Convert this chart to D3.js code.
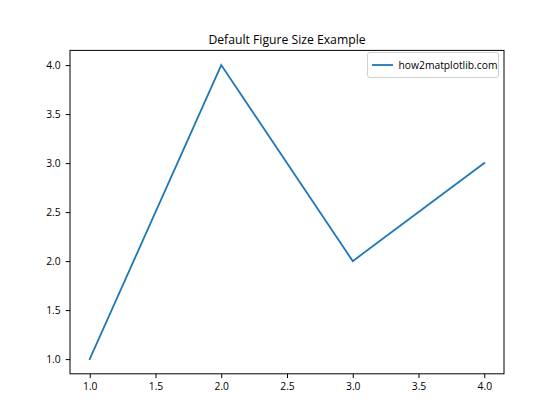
<!DOCTYPE html>
<html><head><meta charset="utf-8">
<script src="https://cdn.jsdelivr.net/npm/d3@7"></script>
<style>body{margin:0;background:#fff}svg text{font-family:"Open Sans","Noto Sans","DejaVu Sans",sans-serif;fill:#000}</style>
</head><body><svg id="c" width="560" height="420"></svg>
<script>
const xValues = [1, 2, 3, 4];
const yValues = [1, 4, 2, 3];
const xTicks = [1.0, 1.5, 2.0, 2.5, 3.0, 3.5, 4.0];
const yTicks = [1.0, 1.5, 2.0, 2.5, 3.0, 3.5, 4.0];
const title = "Default Figure Size Example";
const seriesLabel = "how2matplotlib.com";

const svg = d3.select("#c");
const L = 70, R = 504, T = 50.4, B = 373.8;
const x = d3.scaleLinear().domain([0.85, 4.15]).range([L, R]);
const y = d3.scaleLinear().domain([0.85, 4.15]).range([B, T]);

const xAxis = svg.append("g").attr("transform", `translate(0,${B})`)
  .call(d3.axisBottom(x).tickValues(xTicks).tickFormat(d3.format(".1f")).tickSize(4.3).tickPadding(5));
const yAxis = svg.append("g").attr("transform", `translate(${L},0)`)
  .call(d3.axisLeft(y).tickValues(yTicks).tickFormat(d3.format(".1f")).tickSize(4.3).tickPadding(5));
[xAxis, yAxis].forEach(a => {
  a.select(".domain").remove();
  a.selectAll("line").attr("stroke", "#000").attr("stroke-width", 1);
  a.selectAll("text").attr("font-size", 10.3).attr("font-family", null);
});

const line = d3.line().x((d, i) => x(xValues[i])).y(d => y(d));
svg.append("path").datum(yValues).attr("d", line)
  .attr("fill", "none").attr("stroke", "#1f77b4").attr("stroke-width", 1.8).attr("stroke-linecap", "square");

svg.append("rect").attr("x", L).attr("y", T).attr("width", R - L).attr("height", B - T)
  .attr("fill", "none").attr("stroke", "#000").attr("stroke-width", 1);

svg.append("text").attr("x", (L + R) / 2).attr("y", T - 6.5).attr("text-anchor", "middle")
  .attr("font-size", 12.2).text(title);

const lg = svg.append("g");
lg.append("rect").attr("x", 367.5).attr("y", 52.5).attr("width", 131).attr("height", 25).attr("rx", 2.5)
  .attr("fill", "#fff").attr("fill-opacity", 0.8).attr("stroke", "#d0d0d0");
lg.append("line").attr("x1", 372).attr("x2", 393).attr("y1", 65).attr("y2", 65)
  .attr("stroke", "#1f77b4").attr("stroke-width", 1.8);
lg.append("text").attr("x", 398.5).attr("y", 68.8).attr("font-size", 10.3).text(seriesLabel);
</script></body></html>
